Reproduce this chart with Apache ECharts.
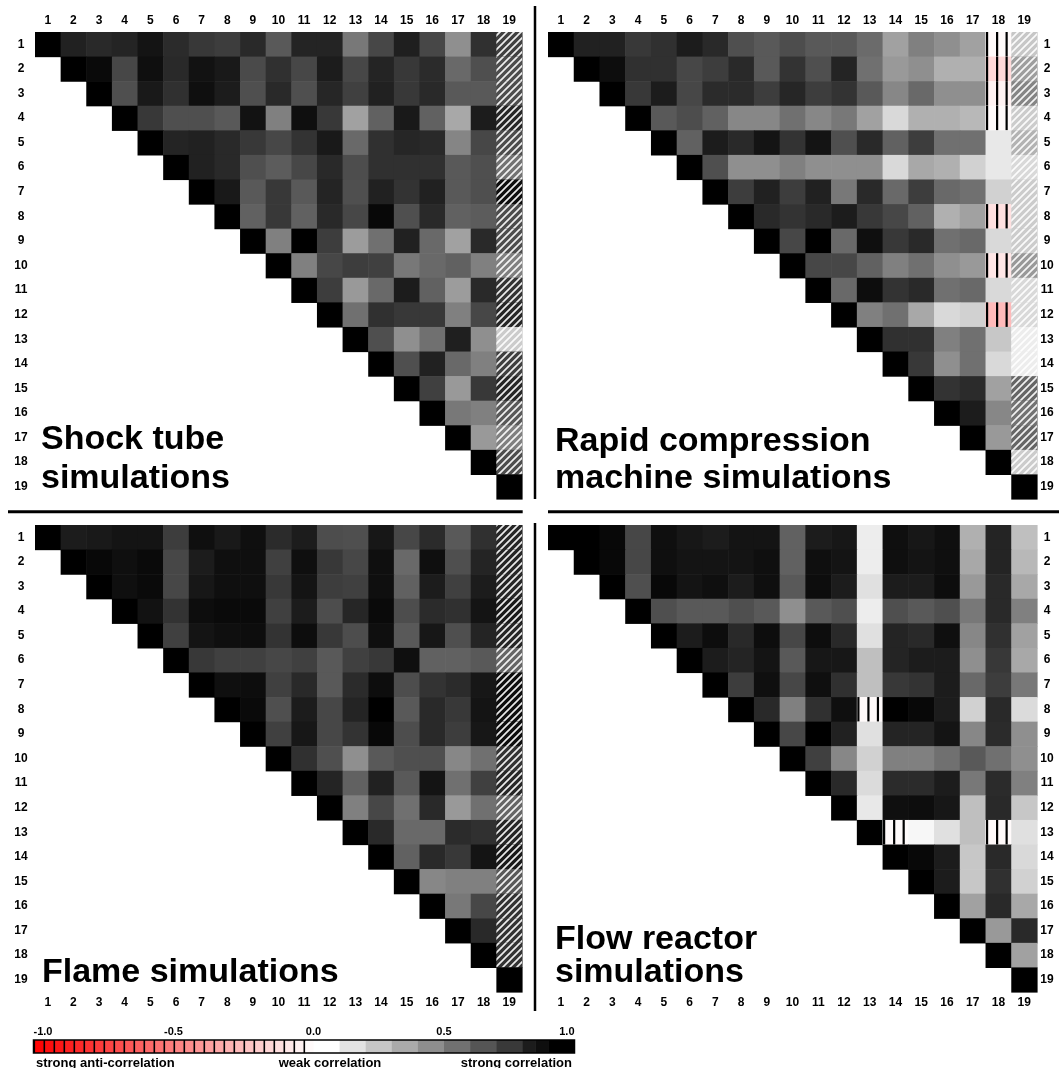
<!DOCTYPE html>
<html>
<head>
<meta charset="utf-8">
<script src="https://cdn.jsdelivr.net/npm/echarts@6/dist/echarts.min.js"></script>
<style>
html,body{margin:0;padding:0;background:#fff;}
#chart{width:1059px;height:1068px;}
</style>
</head>
<body>
<div id="chart"></div>
<script>
// ---------- DATA ----------
const indices = ['1','2','3','4','5','6','7','8','9','10','11','12','13','14','15','16','17','18','19'];

// upper-triangle rows: row i holds the values for columns i+1 .. 19 (diagonal = 1)
const shockTube = [
  [0.87,0.84,0.86,0.92,0.83,0.78,0.76,0.84,0.65,0.86,0.86,0.53,0.72,0.88,0.72,0.44,0.81,0.75],
  [0.96,0.72,0.94,0.84,0.93,0.90,0.71,0.81,0.72,0.89,0.72,0.86,0.78,0.83,0.59,0.69,0.70],
  [0.69,0.90,0.81,0.94,0.89,0.69,0.84,0.69,0.85,0.75,0.87,0.78,0.84,0.65,0.65,0.70],
  [0.78,0.69,0.69,0.65,0.93,0.50,0.94,0.78,0.37,0.62,0.90,0.62,0.34,0.89,0.85],
  [0.86,0.87,0.84,0.78,0.72,0.80,0.90,0.59,0.81,0.85,0.84,0.48,0.72,0.70],
  [0.87,0.84,0.69,0.64,0.72,0.84,0.70,0.81,0.81,0.81,0.65,0.69,0.55],
  [0.90,0.65,0.78,0.65,0.86,0.69,0.87,0.80,0.87,0.65,0.69,0.95],
  [0.62,0.78,0.62,0.84,0.72,0.97,0.69,0.84,0.62,0.64,0.70],
  [0.50,1.00,0.76,0.39,0.56,0.87,0.59,0.37,0.84,0.70],
  [0.50,0.72,0.76,0.75,0.53,0.59,0.62,0.50,0.50],
  [0.76,0.40,0.59,0.89,0.62,0.39,0.84,0.80],
  [0.56,0.81,0.78,0.78,0.50,0.72,0.85],
  [0.69,0.44,0.56,0.88,0.44,0.20],
  [0.69,0.87,0.59,0.50,0.75],
  [0.75,0.40,0.78,0.85],
  [0.53,0.50,0.65],
  [0.40,0.50],
  [0.70]
];

const rapidCompression = [
  [0.87,0.87,0.78,0.81,0.89,0.84,0.69,0.65,0.70,0.65,0.65,0.58,0.37,0.50,0.44,0.37,-0.02,0.22],
  [0.95,0.81,0.81,0.72,0.76,0.84,0.65,0.80,0.69,0.86,0.56,0.40,0.44,0.31,0.31,-0.15,0.38],
  [0.78,0.89,0.72,0.83,0.83,0.76,0.85,0.76,0.80,0.65,0.47,0.59,0.44,0.44,-0.05,0.48],
  [0.65,0.70,0.62,0.47,0.47,0.56,0.47,0.53,0.37,0.15,0.31,0.31,0.28,-0.02,0.20],
  [0.62,0.89,0.84,0.92,0.80,0.92,0.69,0.84,0.62,0.76,0.56,0.56,0.09,0.30],
  [0.69,0.44,0.44,0.50,0.44,0.44,0.44,0.15,0.34,0.31,0.18,0.09,0.15],
  [0.76,0.87,0.76,0.87,0.53,0.84,0.59,0.76,0.59,0.56,0.18,0.20],
  [0.84,0.80,0.84,0.89,0.78,0.72,0.62,0.31,0.37,-0.12,0.20],
  [0.72,1.00,0.59,0.94,0.78,0.84,0.56,0.59,0.15,0.20],
  [0.72,0.72,0.62,0.50,0.56,0.44,0.40,-0.10,0.40],
  [0.59,0.95,0.80,0.84,0.56,0.59,0.15,0.15],
  [0.50,0.56,0.34,0.15,0.18,-0.27,0.15],
  [0.81,0.81,0.50,0.56,0.22,0.07],
  [0.78,0.44,0.56,0.15,0.07],
  [0.80,0.83,0.37,0.60],
  [0.89,0.47,0.55],
  [0.40,0.60],
  [0.20]
];

const flame = [
  [0.89,0.90,0.92,0.92,0.76,0.94,0.90,0.94,0.83,0.89,0.70,0.69,0.91,0.72,0.83,0.65,0.81,0.85],
  [0.97,0.94,0.96,0.72,0.89,0.94,0.94,0.75,0.94,0.78,0.72,0.94,0.59,0.94,0.69,0.86,0.85],
  [0.94,0.96,0.72,0.91,0.94,0.94,0.78,0.92,0.76,0.75,0.94,0.62,0.89,0.75,0.89,0.85],
  [0.93,0.80,0.95,0.96,0.96,0.75,0.89,0.70,0.85,0.96,0.70,0.83,0.81,0.92,0.90],
  [0.75,0.92,0.94,0.95,0.80,0.95,0.78,0.70,0.94,0.65,0.91,0.69,0.86,0.85],
  [0.78,0.75,0.75,0.72,0.75,0.65,0.75,0.78,0.94,0.62,0.62,0.65,0.60],
  [0.94,0.95,0.75,0.84,0.65,0.83,0.95,0.70,0.80,0.83,0.91,0.95],
  [0.96,0.69,0.89,0.72,0.86,1.00,0.65,0.84,0.78,0.92,0.95],
  [0.75,0.91,0.72,0.80,0.97,0.70,0.84,0.76,0.91,0.95],
  [0.81,0.69,0.44,0.65,0.69,0.69,0.47,0.56,0.80],
  [0.86,0.62,0.87,0.65,0.92,0.56,0.75,0.85],
  [0.50,0.72,0.56,0.84,0.40,0.56,0.60],
  [0.84,0.59,0.59,0.83,0.81,0.85],
  [0.62,0.84,0.78,0.92,0.90],
  [0.47,0.50,0.50,0.65],
  [0.53,0.72,0.80],
  [0.84,0.80],
  [0.80]
];

const flowReactor = [
  [1.00,0.97,0.72,0.94,0.91,0.89,0.92,0.92,0.62,0.89,0.91,0.07,0.94,0.91,0.94,0.31,0.86,0.25],
  [0.97,0.72,0.94,0.92,0.92,0.92,0.94,0.62,0.94,0.92,0.07,0.94,0.92,0.94,0.34,0.86,0.28],
  [0.69,0.97,0.92,0.94,0.89,0.94,0.65,0.95,0.89,0.12,0.89,0.89,0.95,0.40,0.84,0.34],
  [0.69,0.65,0.65,0.69,0.65,0.44,0.65,0.69,0.07,0.69,0.65,0.69,0.53,0.84,0.50],
  [0.89,0.95,0.84,0.95,0.72,0.95,0.84,0.12,0.86,0.84,0.94,0.47,0.81,0.37],
  [0.89,0.86,0.92,0.65,0.91,0.91,0.25,0.86,0.89,0.89,0.44,0.78,0.34],
  [0.76,0.94,0.72,0.94,0.81,0.25,0.78,0.80,0.89,0.59,0.76,0.53],
  [0.84,0.50,0.81,0.94,-0.02,1.00,0.97,0.89,0.18,0.84,0.14],
  [0.72,1.00,0.87,0.12,0.86,0.86,0.92,0.47,0.83,0.44],
  [0.75,0.47,0.18,0.50,0.50,0.56,0.65,0.56,0.44],
  [0.84,0.14,0.83,0.83,0.89,0.53,0.83,0.50],
  [0.09,0.94,0.95,0.91,0.25,0.84,0.22],
  [-0.02,0.03,0.12,0.25,-0.02,0.12],
  [0.97,0.89,0.22,0.84,0.15],
  [0.89,0.22,0.81,0.18],
  [0.37,0.84,0.34],
  [0.40,0.84],
  [0.37]
];

// columns drawn with a hatch overlay
const hatchShockTube = ['19'];
const hatchRapidCompression = ['19'];
const hatchFlame = ['19'];
const hatchFlowReactor = [];

const panelTitles = [
  ['Shock tube', 'simulations'],
  ['Rapid compression', 'machine simulations'],
  ['Flame simulations'],
  ['Flow reactor', 'simulations']
];

// colour-bar legend
const negativeSteps = 28;
const positiveBounds = [0, 0.1, 0.2, 0.3, 0.4, 0.5, 0.6, 0.7, 0.8, 0.85, 0.9, 1.0];
const colorbarCaptions = ['strong anti-correlation', 'weak correlation', 'strong correlation'];

// ---------- HELPERS ----------
const FONT = '"Liberation Sans", Arial, Helvetica, sans-serif';

function valueColor(v) {
  if (v >= 0) {
    const g = Math.round(255 * (1 - Math.min(1, v)));
    return 'rgb(' + g + ',' + g + ',' + g + ')';
  }
  const t = Math.round(255 * (1 + Math.max(-1, v)));
  return 'rgb(255,' + t + ',' + t + ')';
}

const hatchCanvas = document.createElement('canvas');
hatchCanvas.width = 7; hatchCanvas.height = 7;
(function () {
  const g = hatchCanvas.getContext('2d');
  g.strokeStyle = 'rgba(255,255,255,0.9)';
  g.lineWidth = 1.7;
  g.beginPath();
  g.moveTo(0, 7); g.lineTo(7, 0);
  g.moveTo(-1, 1); g.lineTo(1, -1);
  g.moveTo(6, 8); g.lineTo(8, 6);
  g.stroke();
})();

function buildCells(rows, hatchCols) {
  const out = [];
  for (let r = 0; r < indices.length; r++) {
    out.push([r, r, 1, 0]);
    const vals = rows[r] || [];
    for (let k = 0; k < vals.length; k++) {
      const c = r + 1 + k;
      out.push([c, r, vals[k], hatchCols.indexOf(indices[c]) >= 0 ? 1 : 0]);
    }
  }
  return out;
}

function renderCell(params, api) {
  const ci = api.value(0), ri = api.value(1), v = api.value(2), h = api.value(3);
  const c = api.coord([ci, ri]);
  const s = api.size([1, 1]);
  const w = s[0], hh = s[1];
  const x0 = c[0] - w / 2, y0 = c[1] - hh / 2;
  const children = [{
    type: 'rect',
    shape: { x: x0, y: y0, width: w + 0.6, height: hh + 0.6 },
    style: { fill: valueColor(v) }
  }];
  if (h) {
    children.push({
      type: 'rect',
      shape: { x: x0, y: y0, width: w, height: hh },
      style: { fill: { image: hatchCanvas, repeat: 'repeat' } }
    });
  }
  if (v < 0) {
    [0.06, 0.45, 0.82].forEach(function (f) {
      children.push({
        type: 'rect',
        shape: { x: x0 + f * w - 1.1, y: y0, width: 2.2, height: hh },
        style: { fill: '#000' }
      });
    });
  }
  return { type: 'group', children: children };
}

// ---------- LAYOUT ----------
const panels = [
  { rows: shockTube, hatch: hatchShockTube, grid: { left: 35, top: 32, width: 487, height: 467 }, xPos: 'top', yPos: 'left' },
  { rows: rapidCompression, hatch: hatchRapidCompression, grid: { left: 548, top: 32, width: 489, height: 467 }, xPos: 'top', yPos: 'right' },
  { rows: flame, hatch: hatchFlame, grid: { left: 35, top: 525, width: 487, height: 467 }, xPos: 'bottom', yPos: 'left' },
  { rows: flowReactor, hatch: hatchFlowReactor, grid: { left: 548, top: 525, width: 489, height: 467 }, xPos: 'bottom', yPos: 'right' }
];

const labelStyle = { color: '#000', fontSize: 12, fontWeight: 'bold', fontFamily: FONT };

const grids = [], xAxes = [], yAxes = [], series = [];
panels.forEach(function (p, i) {
  grids.push(p.grid);
  xAxes.push({
    type: 'category', data: indices, gridIndex: i, position: p.xPos,
    axisLine: { show: false }, axisTick: { show: false }, splitLine: { show: false },
    axisLabel: Object.assign({ interval: 0, margin: 5 }, labelStyle)
  });
  yAxes.push({
    type: 'category', data: indices, gridIndex: i, position: p.yPos, inverse: true,
    axisLine: { show: false }, axisTick: { show: false }, splitLine: { show: false },
    axisLabel: Object.assign({ interval: 0, align: 'center', margin: p.yPos === 'left' ? 14 : 10 }, labelStyle)
  });
  series.push({
    type: 'custom', xAxisIndex: i, yAxisIndex: i, silent: true,
    renderItem: renderCell,
    data: buildCells(p.rows, p.hatch),
    animation: false
  });
});

// colour bar: negative half and positive half
const cbTop = 1040, cbH = 13;
grids.push({ left: 33.5, top: cbTop, width: 280, height: cbH });
grids.push({ left: 313.5, top: cbTop, width: 261, height: cbH });
const tickLabelStyle = { color: '#000', fontSize: 11, fontWeight: 'bold', fontFamily: FONT, margin: 3 };
xAxes.push({
  type: 'value', gridIndex: 4, min: -1, max: 0, interval: 0.5, position: 'top',
  axisLine: { show: false }, axisTick: { show: false }, splitLine: { show: false },
  axisLabel: Object.assign({ alignMinLabel: 'left', formatter: function (v) { return v === 0 ? '' : v.toFixed(1); } }, tickLabelStyle)
});
xAxes.push({
  type: 'value', gridIndex: 5, min: 0, max: 1, interval: 0.5, position: 'top',
  axisLine: { show: false }, axisTick: { show: false }, splitLine: { show: false },
  axisLabel: Object.assign({ alignMaxLabel: 'right', formatter: function (v) { return v.toFixed(1); } }, tickLabelStyle)
});
yAxes.push({ type: 'value', gridIndex: 4, min: 0, max: 1, show: false });
yAxes.push({ type: 'value', gridIndex: 5, min: 0, max: 1, show: false });

const negSegs = [];
for (let i = 0; i < negativeSteps; i++) {
  const lo = -1 + i / negativeSteps, hi = -1 + (i + 1) / negativeSteps;
  negSegs.push([lo, hi, (lo + hi) / 2]);
}
const posSegs = [];
for (let i = 0; i < positiveBounds.length - 1; i++) {
  const lo = positiveBounds[i], hi = positiveBounds[i + 1];
  posSegs.push([lo, hi, Math.min(1, lo / 0.9)]);
}
function renderSeg(params, api) {
  const lo = api.value(0), hi = api.value(1), v = api.value(2);
  const a = api.coord([lo, 1]), b = api.coord([hi, 0]);
  const ch = [{ type: 'rect', shape: { x: a[0], y: a[1], width: b[0] - a[0] + 0.5, height: b[1] - a[1] }, style: { fill: valueColor(v) } }];
  if (v < 0) {
    ch.push({ type: 'rect', shape: { x: a[0], y: a[1], width: 1.6, height: b[1] - a[1] }, style: { fill: '#000' } });
  }
  return { type: 'group', children: ch };
}
series.push({ type: 'custom', xAxisIndex: 4, yAxisIndex: 4, silent: true, renderItem: renderSeg, data: negSegs, animation: false });
series.push({ type: 'custom', xAxisIndex: 5, yAxisIndex: 5, silent: true, renderItem: renderSeg, data: posSegs, animation: false });

// ---------- DECORATION ----------
const titleFont = 'bold 34px ' + FONT;
const titleSpecs = [
  { x: 41, ys: [439.5, 479] },
  { x: 555, ys: [442, 479] },
  { x: 42, ys: [972.5] },
  { x: 555, ys: [940, 972.5] }
];
const graphics = [];
titleSpecs.forEach(function (t, i) {
  panelTitles[i].forEach(function (line, j) {
    graphics.push({
      type: 'text', x: t.x, y: t.ys[j], z: 50,
      style: { text: line, font: titleFont, fill: '#000', textAlign: 'left', textVerticalAlign: 'middle', verticalAlign: 'middle' }
    });
  });
});
// separators
graphics.push({ type: 'line', shape: { x1: 8, y1: 511.7, x2: 522.7, y2: 511.7 }, style: { stroke: '#000', lineWidth: 3 }, z: 50 });
graphics.push({ type: 'line', shape: { x1: 548, y1: 511.7, x2: 1059, y2: 511.7 }, style: { stroke: '#000', lineWidth: 3 }, z: 50 });
graphics.push({ type: 'line', shape: { x1: 535, y1: 6, x2: 535, y2: 499 }, style: { stroke: '#000', lineWidth: 2.5 }, z: 50 });
graphics.push({ type: 'line', shape: { x1: 535, y1: 523, x2: 535, y2: 1011 }, style: { stroke: '#000', lineWidth: 2.5 }, z: 50 });
// colour bar outline
graphics.push({ type: 'rect', shape: { x: 33.5, y: cbTop, width: 541, height: cbH }, style: { fill: 'none', stroke: '#000', lineWidth: 1.5 }, z: 60 });
// captions
const capFont = 'bold 13px ' + FONT;
graphics.push({ type: 'text', x: 36, y: 1063, z: 50, style: { text: colorbarCaptions[0], font: capFont, fill: '#000', textAlign: 'left', textVerticalAlign: 'middle', verticalAlign: 'middle' } });
graphics.push({ type: 'text', x: 330, y: 1063, z: 50, style: { text: colorbarCaptions[1], font: capFont, fill: '#000', textAlign: 'center', textVerticalAlign: 'middle', verticalAlign: 'middle' } });
graphics.push({ type: 'text', x: 572, y: 1063, z: 50, style: { text: colorbarCaptions[2], font: capFont, fill: '#000', textAlign: 'right', textVerticalAlign: 'middle', verticalAlign: 'middle' } });

const chart = echarts.init(document.getElementById('chart'), null, { renderer: 'canvas' });
chart.setOption({
  backgroundColor: '#fff',
  animation: false,
  grid: grids,
  xAxis: xAxes,
  yAxis: yAxes,
  series: series,
  graphic: graphics
});
</script>
</body>
</html>
